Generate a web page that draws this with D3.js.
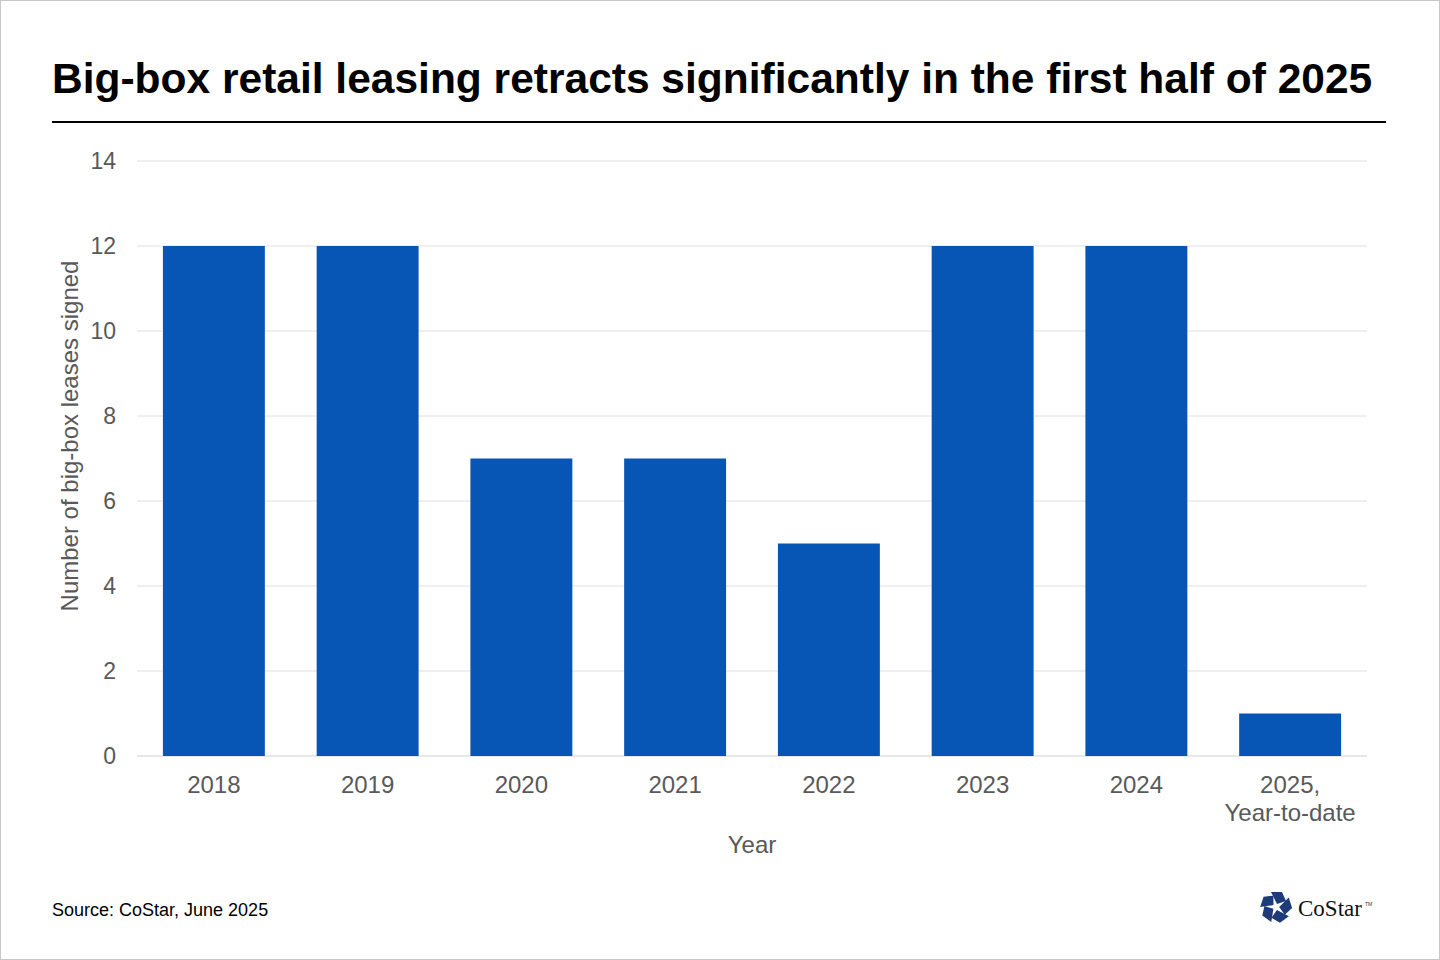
<!DOCTYPE html>
<html>
<head>
  <meta charset="UTF-8" />
  <title>Big-box retail leasing</title>
  <style>
    body { margin: 0; background: #fff; }
    svg { display: block; font-family: "Liberation Sans", Arial, sans-serif; }
  </style>
</head>
<body>
  <div id="root"></div>
  <script src="https://d3js.org/d3.v7.min.js"></script>
  <script>
    const years = ['2018', '2019', '2020', '2021', '2022', '2023', '2024', '2025,\nYear-to-date']
    const leases = [12, 12, 7, 7, 5, 12, 12, 1]
    const yTicks = [0, 2, 4, 6, 8, 10, 12, 14]

    const W = 1440, H = 960
    const svg = d3.select('#root').append('svg').attr('width', W).attr('height', H)

    // frame
    svg.append('rect').attr('x', 0.5).attr('y', 0.5).attr('width', W - 1).attr('height', H - 1)
      .attr('fill', '#fff').attr('stroke', '#c8c8c8')

    // title and rule
    svg.append('text').attr('x', 52).attr('y', 93)
      .attr('font-size', 42.5).attr('font-weight', 'bold').attr('fill', '#000')
      .text('Big-box retail leasing retracts significantly in the first half of 2025')
    svg.append('line').attr('x1', 52).attr('x2', 1386).attr('y1', 122).attr('y2', 122)
      .attr('stroke', '#000').attr('stroke-width', 2)

    const x = d3.scaleBand().domain(years).range([137, 1367]).paddingInner(0.337).paddingOuter(0.1685)
    const y = d3.scaleLinear().domain([0, 14]).range([756, 161])

    // gridlines
    svg.append('g').selectAll('line').data(yTicks).join('line')
      .attr('x1', 137).attr('x2', 1367)
      .attr('y1', d => y(d)).attr('y2', d => y(d))
      .attr('stroke', d => d === 0 ? '#d0d0d0' : '#e0e0e0').attr('stroke-width', 1)

    // y tick labels
    svg.append('g').selectAll('text').data(yTicks).join('text')
      .attr('x', 116).attr('y', d => y(d) + 8)
      .attr('text-anchor', 'end').attr('font-size', 23).attr('fill', '#595959')
      .text(d => d)

    // bars
    svg.append('g').selectAll('rect').data(leases).join('rect')
      .attr('x', (d, i) => x(years[i]))
      .attr('y', d => y(d))
      .attr('width', x.bandwidth())
      .attr('height', d => y(0) - y(d))
      .attr('fill', '#0755b5')

    // x tick labels
    const xl = svg.append('g').selectAll('text').data(years).join('text')
      .attr('x', d => x(d) + x.bandwidth() / 2).attr('y', 793)
      .attr('text-anchor', 'middle').attr('font-size', 24).attr('fill', '#595959')
    xl.selectAll('tspan').data(d => d.split('\n')).join('tspan')
      .attr('x', function () { return this.parentNode.getAttribute('x') })
      .attr('dy', (d, i) => i === 0 ? 0 : 28)
      .text(d => d)

    // axis titles
    svg.append('text').attr('x', 752).attr('y', 853)
      .attr('text-anchor', 'middle').attr('font-size', 24).attr('fill', '#595959').text('Year')
    svg.append('text').attr('transform', 'translate(78,436) rotate(-90)')
      .attr('text-anchor', 'middle').attr('font-size', 24).attr('fill', '#595959')
      .text('Number of big-box leases signed')

    // source
    svg.append('text').attr('x', 52).attr('y', 916)
      .attr('font-size', 18).attr('fill', '#000').text('Source: CoStar, June 2025')

    // logo
    const logo = svg.append('g').attr('transform', 'translate(1276,907)')
    d3.range(5).forEach(i => {
      logo.append('path')
        .attr('d', 'M-5,-15 L6,-15 L10,-6 L1,-3 Z')
        .attr('fill', '#1e3a78')
        .attr('transform', `rotate(${i * 72})`)
    })
    svg.append('text').attr('x', 1298).attr('y', 916)
      .attr('font-family', '"Liberation Serif", "Times New Roman", serif')
      .attr('font-size', 23).attr('fill', '#111').text('CoStar')
    svg.append('text').attr('x', 1365).attr('y', 906)
      .attr('font-size', 5).attr('fill', '#333').text('TM')
  </script>
</body>
</html>
